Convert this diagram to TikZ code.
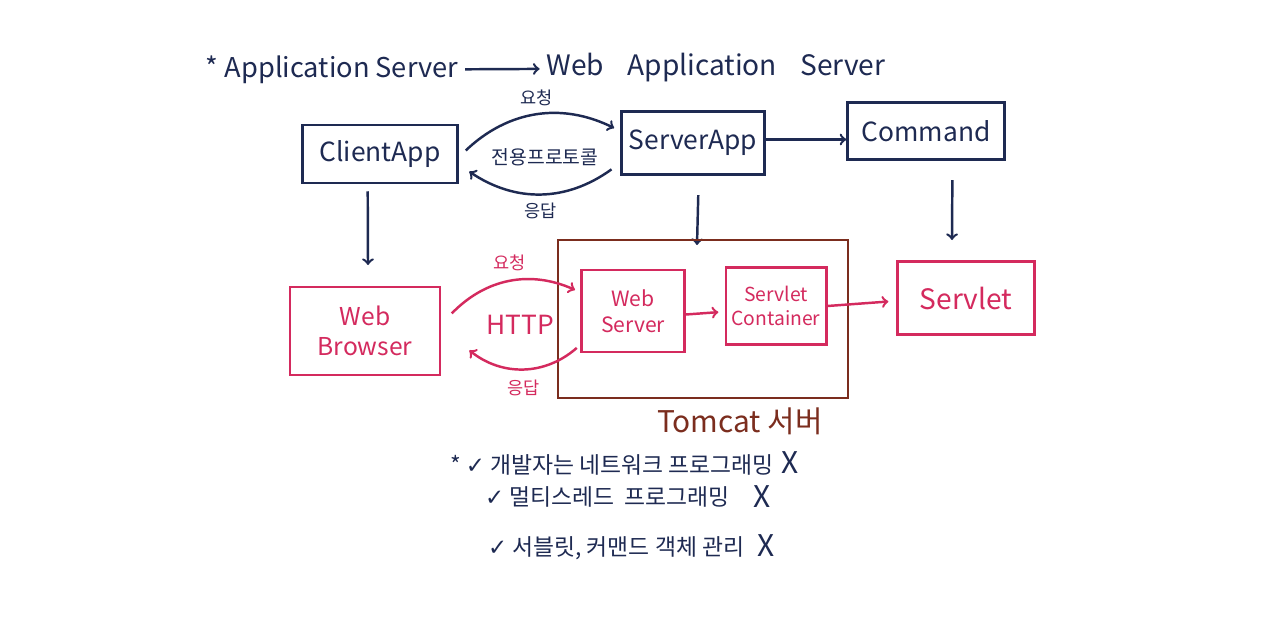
\documentclass[tikz,border=0pt]{standalone}
\usepackage{fontspec}
\setmainfont{Noto Sans CJK KR}
\newfontfamily\checkfont{DejaVu Sans}
\usepackage{tikz}
\usetikzlibrary{positioning}
\definecolor{ink}{HTML}{1E2A52}
\definecolor{rose}{HTML}{D42A5E}
\definecolor{rust}{HTML}{7B2D1E}

\begin{document}
\begin{tikzpicture}[x=0.02cm, y=0.02cm, line width=1.4pt,
					appbox/.style={draw=ink, text=ink, font=\fontsize{15}{17}\selectfont},
					webbox/.style={draw=rose, text=rose, align=center, font=\fontsize{14}{17}\selectfont},
					note/.style={font=\fontsize{10}{12}\selectfont},
					item/.style={anchor=west, text=ink, font=\fontsize{13}{15}\selectfont},
					nope/.style={text=ink, font=\fontsize{17}{19}\selectfont}]
					\useasboundingbox[fill=white] (0,0) rectangle (1280,-635);
					\node[text=ink, font=\fontsize{15.5}{17}\selectfont] (titleL) at (332,-70) {* Application Server};
					\node[text=ink, font=\fontsize{16}{18}\selectfont] (titleR) at (716,-68) {Web\hspace{0.6em} Application\hspace{0.6em} Server};
					\draw[->, ink] (titleL) -- (titleR);
					\begin{scope}[draw=ink, ink]
					\node[appbox, minimum width=3.1cm, minimum height=1.16cm] (ClientApp) at (380,-154) {ClientApp};
					\node[appbox, minimum width=2.86cm, minimum height=1.26cm] (ServerApp) at (693,-143) {ServerApp};
					\node[appbox, minimum width=3.14cm, minimum height=1.14cm] (Command) at (926,-131) {Command};
					\draw[->] ([yshift=2pt]ServerApp.east) -- ([yshift=2pt]ServerApp.east -| Command.west);
					\draw[->] ([xshift=4pt,yshift=2pt]ClientApp.east) to[bend left=35] node[note, above=1pt] (req1) {요청} ([xshift=-3.5pt,yshift=8.5pt]ServerApp.west);
					\draw[->] ([xshift=-5pt,yshift=-15pt]ServerApp.west) to[bend left=35] node[note, below=1pt] (resp1) {응답} ([xshift=6pt,yshift=-10pt]ClientApp.east);
					\node[note, font=\fontsize{11}{13}\selectfont] (proto) at (545,-157) {전용프로토콜};
					\coordinate (cDown) at (368,-265);
					\coordinate (sDown) at (697,-245);
					\coordinate (mDown) at (952,-240);
					\draw[->] ([xshift=-7pt,yshift=-4pt]ClientApp.south) -- (cDown);
					\draw[->] ([xshift=3pt,yshift=-11pt]ServerApp.south) -- (sDown);
					\draw[->] ([xshift=15pt,yshift=-11pt]Command.south) -- (mDown);
					\end{scope}
					\node[draw=rust, minimum width=5.8cm, minimum height=3.16cm] (tomcat) at (703,-319) {};
					\node[text=rust, font=\fontsize{17}{19}\selectfont, below=1pt of tomcat, xshift=21pt] (tomcatL) {Tomcat 서버};
					\begin{scope}[draw=rose, rose]
					\node[webbox, minimum width=3.0cm, minimum height=1.76cm] (browser) at (365,-331) {Web\\Browser};
					\node[webbox, minimum width=2.06cm, minimum height=1.64cm, font=\fontsize{12}{15}\selectfont] (webserver) at (633,-311) {Web\\Server};
					\node[webbox, minimum width=1.96cm, minimum height=1.54cm, font=\fontsize{11}{14}\selectfont] (container) at (776,-306) {Servlet\\Container};
					\node[webbox, minimum width=2.74cm, minimum height=1.46cm, font=\fontsize{16}{18}\selectfont] (servlet) at (966,-298) {Servlet};
					\draw[->] ([yshift=-2pt]webserver.east) -- ([xshift=-3.5pt,yshift=-3.5pt]container.west);
					\draw[->] (container.east) -- ([xshift=-4.5pt,yshift=-2pt]servlet.west);
					\draw[->] ([xshift=6pt,yshift=10pt]browser.east) to[bend left=35] node[note, above=2pt] (req2) {요청} ([xshift=-3pt,yshift=12pt]webserver.west);
					\draw[->] ([xshift=-2pt,yshift=-21pt]webserver.west) to[bend left=40] node[note, below=2pt] (resp2) {응답} ([xshift=16pt,yshift=-11pt]browser.east);
					\node[font=\fontsize{15}{17}\selectfont] (http) at (520,-325) {HTTP};
					\end{scope}
					\node[item] (line1) at (443,-465) {* {\checkfont ✓} 개발자는 네트워크 프로그래밍};
					\node[item] (line2) at (478,-497) {{\checkfont ✓} 멀티스레드 \ 프로그래밍};
					\node[item] (line3) at (481,-548) {{\checkfont ✓} 서블릿, 커맨드 객체 관리};
					\node[nope] (x1) at (790,-463) {X};
					\node[nope] (x2) at (762,-497) {X};
					\node[nope] (x3) at (766,-546) {X};
					\end{tikzpicture}
\end{document}
